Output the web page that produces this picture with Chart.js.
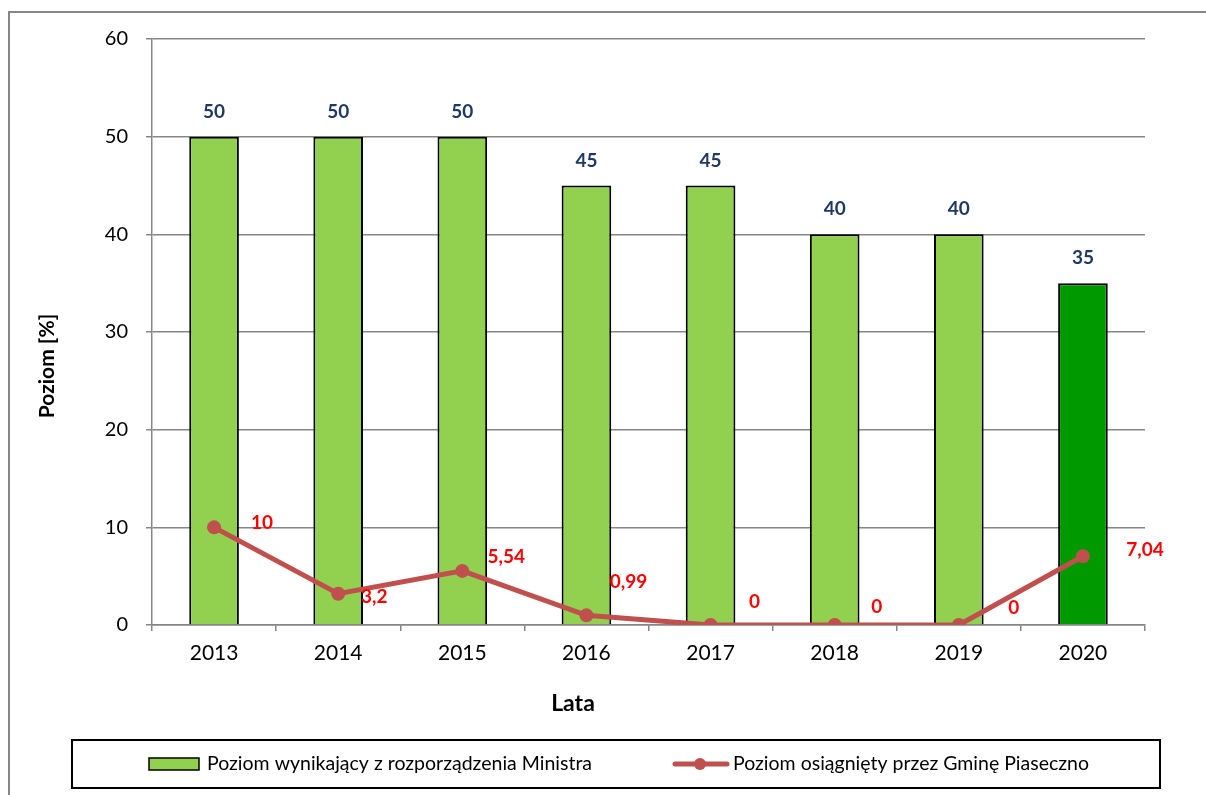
<!DOCTYPE html>
<html>
<head>
<meta charset="utf-8">
<script src="https://cdn.jsdelivr.net/npm/chart.js@4.4.1/dist/chart.umd.min.js"></script>
<style>
  html, body { margin: 0; padding: 0; background: #ffffff; }
  #wrap { width: 1206px; height: 795px; position: relative; }
</style>
</head>
<body>
<div id="wrap"><canvas id="c" width="1206" height="795"></canvas></div>
<script>
// ---- data ----
const years = ['2013', '2014', '2015', '2016', '2017', '2018', '2019', '2020'];
const ministerLevel = [50, 50, 50, 45, 45, 40, 40, 35];
const gminaLevel = [10, 3.2, 5.54, 0.99, 0, 0, 0, 7.04];
const yAxisMin = 0;
const yAxisMax = 60;
const yAxisStep = 10;
const seriesNames = ['Poziom wynikający z rozporządzenia Ministra', 'Poziom osiągnięty przez Gminę Piaseczno'];
const xAxisTitle = 'Lata';
const yAxisTitle = 'Poziom [%]';

// ---- styles ----
const FONT = 'Lato, "Open Sans", sans-serif';
const barColor = '#92D050';
const highlightBarColor = '#009900';
const highlightIndex = 7;
const lineColor = '#C0504D';
const gridColor = '#868686';
const barLabelColor = '#1F3864';
const lineLabelColor = '#FF0000';
// label offsets (px) from each line point, as placed in the original
const lineLabelOffsets = [[48, -4], [36, 3], [44, -14], [42, -33], [44, -23], [42, -18], [55, -17], [62, -6]];

const fmt = v => String(v).replace('.', ',');

const decorPlugin = {
  id: 'decor',
  beforeDraw(chart) {
    const ctx = chart.ctx;
    ctx.save();
    ctx.strokeStyle = gridColor;
    ctx.lineWidth = 2;
    ctx.strokeRect(9, 12, 1400, 1000);
    ctx.restore();
  },
  afterDatasetsDraw(chart) {
    const ctx = chart.ctx;
    ctx.save();
    ctx.textAlign = 'center';
    ctx.textBaseline = 'middle';
    ctx.font = 'bold 19px ' + FONT;
    const barMeta = chart.getDatasetMeta(0);
    barMeta.data.forEach((el, i) => {
      ctx.fillStyle = barLabelColor;
      ctx.fillText(fmt(ministerLevel[i]), el.x, el.y - 25);
    });
    const lineMeta = chart.getDatasetMeta(1);
    lineMeta.data.forEach((el, i) => {
      const o = lineLabelOffsets[i];
      ctx.fillStyle = lineLabelColor;
      ctx.fillText(fmt(gminaLevel[i]), el.x + o[0], el.y + o[1]);
    });
    ctx.restore();
  },
  afterDraw(chart) {
    const ctx = chart.ctx;
    ctx.save();
    ctx.textAlign = 'center';
    ctx.textBaseline = 'middle';
    ctx.fillStyle = '#000';
    // x axis title
    ctx.font = 'bold 23px ' + FONT;
    ctx.fillText(xAxisTitle, 573, 704);
    // y axis title
    ctx.translate(47, 366);
    ctx.rotate(-Math.PI / 2);
    ctx.font = 'bold 21px ' + FONT;
    ctx.fillText(yAxisTitle, 0, 0);
    ctx.restore();

    // legend
    ctx.save();
    ctx.strokeStyle = '#000';
    ctx.lineWidth = 2;
    ctx.strokeRect(72, 740, 1088, 48);
    const cy = 764;
    ctx.fillStyle = barColor;
    ctx.fillRect(149, 758, 50, 12);
    ctx.lineWidth = 1.5;
    ctx.strokeRect(149, 758, 50, 12);
    ctx.font = '19.5px ' + FONT;
    ctx.fillStyle = '#000';
    ctx.textAlign = 'left';
    ctx.textBaseline = 'middle';
    ctx.fillText(seriesNames[0], 207, cy);
    ctx.strokeStyle = lineColor;
    ctx.lineWidth = 5;
    ctx.lineCap = 'round';
    ctx.beginPath();
    ctx.moveTo(675, cy);
    ctx.lineTo(727, cy);
    ctx.stroke();
    ctx.fillStyle = lineColor;
    ctx.beginPath();
    ctx.arc(700, cy, 6, 0, Math.PI * 2);
    ctx.fill();
    ctx.fillStyle = '#000';
    ctx.fillText(seriesNames[1], 733, cy);
    ctx.restore();
  }
};

new Chart(document.getElementById('c'), {
  type: 'bar',
  data: {
    labels: years,
    datasets: [
      {
        type: 'bar',
        label: seriesNames[0],
        data: ministerLevel,
        backgroundColor: ctx => ctx.dataIndex === highlightIndex ? highlightBarColor : barColor,
        borderColor: '#000000',
        borderWidth: 2,
        borderSkipped: 'start',
        categoryPercentage: 1.0,
        barPercentage: 0.4,
        order: 2
      },
      {
        type: 'line',
        label: seriesNames[1],
        data: gminaLevel,
        borderColor: lineColor,
        backgroundColor: lineColor,
        borderWidth: 5,
        pointRadius: 7,
        pointBackgroundColor: lineColor,
        pointBorderColor: lineColor,
        pointBorderWidth: 0,
        tension: 0,
        order: 1
      }
    ]
  },
  options: {
    responsive: false,
    animation: false,
    devicePixelRatio: 1,
    layout: { padding: { top: 39, right: 61, bottom: 0, left: 0 } },
    plugins: {
      legend: { display: false },
      tooltip: { enabled: false },
      title: { display: false }
    },
    scales: {
      x: {
        offset: true,
        afterFit: s => { s.height = 170; },
        grid: {
          offset: true,
          drawOnChartArea: false,
          drawTicks: true,
          tickLength: 6,
          color: gridColor,
          lineWidth: 1.5
        },
        border: { display: true, color: gridColor, width: 1.5 },
        ticks: {
          color: '#000',
          font: { family: FONT, size: 21 },
          padding: 10,
          maxRotation: 0
        },
        title: { display: false }
      },
      y: {
        min: yAxisMin,
        max: yAxisMax,
        afterFit: s => { s.width = 152; },
        grid: {
          color: gridColor,
          lineWidth: 1.5,
          tickLength: 6,
          drawTicks: true
        },
        border: { display: true, color: gridColor, width: 1.5 },
        ticks: {
          stepSize: yAxisStep,
          color: '#000',
          font: { family: FONT, size: 20 },
          padding: 18
        }
      }
    }
  },
  plugins: [decorPlugin]
});
</script>
</body>
</html>
